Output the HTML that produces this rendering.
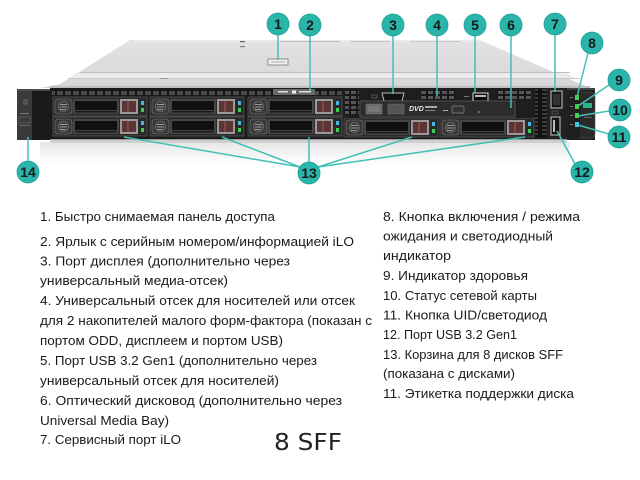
<!DOCTYPE html>
<html><head><meta charset="utf-8"><style>
html,body{margin:0;padding:0;background:#fff;}
svg{display:block;}
.t{font-family:"Liberation Sans","DejaVu Sans",sans-serif;font-size:12.5px;fill:#1a1a1a;}
.n{font-family:"Liberation Sans Narrow","Liberation Sans",sans-serif;font-weight:bold;font-size:14px;fill:#1a1a1a;text-anchor:middle;}
</style></head><body>
<svg width="640" height="480" viewBox="0 0 640 480" xmlns="http://www.w3.org/2000/svg">
<defs>
  <linearGradient id="lid" x1="0" y1="0" x2="0" y2="1">
    <stop offset="0" stop-color="#e3e3e3"/><stop offset="1" stop-color="#d6d6d6"/>
  </linearGradient>
  <linearGradient id="refl" x1="0" y1="0" x2="0" y2="1">
    <stop offset="0" stop-color="#e6e6e6"/><stop offset="1" stop-color="#ffffff"/>
  </linearGradient>
  <pattern id="vent" x="0" y="0" width="8" height="6" patternUnits="userSpaceOnUse">
    <rect width="8" height="6" fill="#161616"/><rect x="1" y="1" width="6" height="4" fill="#4a4a4a"/>
  </pattern>
  <pattern id="vgrid" x="0" y="0" width="7" height="5" patternUnits="userSpaceOnUse">
    <rect width="7" height="5" fill="#181818"/><rect x="1" y="1" width="5" height="3" fill="#555"/>
  </pattern>
  <pattern id="vcol" x="0" y="0" width="12" height="4" patternUnits="userSpaceOnUse">
    <rect width="12" height="4" fill="#121212"/><rect x="2" y="1" width="8" height="2" fill="#3c3c3c"/>
  </pattern>
  <g id="drv">
    <rect x="0" y="0" width="94" height="19" fill="#2a2a2a" stroke="#565656" stroke-width="0.8"/>
    <rect x="2" y="2" width="17" height="15" rx="3" fill="#3a3a3a" stroke="#7a7a7a" stroke-width="0.6"/>
    <circle cx="10.5" cy="9.5" r="5" fill="none" stroke="#8a8a8a" stroke-width="0.6"/>
    <rect x="7" y="7" width="7" height="1" fill="#999"/><rect x="7" y="9.5" width="7" height="1" fill="#999"/><rect x="7" y="12" width="6" height="1" fill="#999"/>
    <rect x="20" y="2" width="46" height="15" fill="#454545"/>
    <rect x="22" y="4" width="42" height="9" fill="#101010"/>
    <rect x="22" y="14" width="42" height="1.5" fill="#1a1a1a"/>
    <rect x="67" y="2" width="18" height="15" fill="#9a9a9a"/>
    <rect x="69" y="4" width="14" height="11" fill="#5c3434"/>
    <rect x="74" y="4" width="2" height="11" fill="#7a4a4a"/>
    <rect x="88" y="4" width="3" height="4" fill="#45b8e8"/>
    <rect x="88" y="11" width="3" height="4" fill="#3fcf4f"/>
  </g>
</defs>

<!-- reflection -->
<rect x="40" y="142" width="530" height="22" fill="url(#refl)"/>

<!-- lid -->
<polygon points="130,40 480,40 590,88 40,88 60,84" fill="url(#lid)"/>
<polygon points="137,40 480,40 485,42 134,42" fill="#eaeaea"/>
<rect x="80" y="72" width="490" height="1" fill="#bdbdbd"/>
<polygon points="78,73 566,73 575,78 70,78" fill="#ececec"/>
<rect x="68" y="78" width="512" height="1" fill="#c8c8c8"/>
<rect x="50" y="86" width="540" height="2" fill="#bfbfbf"/>
<rect x="240" y="41" width="5" height="1.2" fill="#666"/>
<rect x="240" y="46" width="5" height="1.2" fill="#888"/>
<rect x="280" y="41" width="60" height="1" fill="#bbb"/>
<rect x="350" y="41" width="40" height="1" fill="#c4c4c4"/>
<rect x="410" y="41" width="50" height="1" fill="#c8c8c8"/>
<rect x="160" y="78" width="8" height="1" fill="#999"/>
<!-- pull label on lid -->
<rect x="268" y="59" width="20" height="6" fill="#f2f2f2" stroke="#777" stroke-width="0.8"/>
<rect x="271" y="61.5" width="14" height="1" fill="#aaa"/>

<!-- left ear -->
<rect x="17" y="89" width="34" height="51" fill="#1a1a1a"/>
<path d="M17 93 Q17 89 22 89 L32 89 L32 140 L17 140 Z" fill="#3a3a3a"/>
<rect x="17" y="89" width="34" height="2" fill="#4d4d4d"/>
<rect x="24" y="100" width="3" height="4" fill="none" stroke="#888" stroke-width="0.6"/>
<rect x="20" y="113" width="9" height="1" fill="#777"/>
<rect x="19" y="117" width="11" height="6" fill="none" stroke="#666" stroke-width="0.6"/>
<rect x="19" y="125" width="11" height="1" fill="#666"/>

<!-- main front body -->
<rect x="50" y="88" width="517" height="51" fill="#1b1b1b"/>
<rect x="52" y="89" width="290" height="6" fill="url(#vent)"/>
<!-- pull tab (2) -->
<rect x="273" y="89" width="42" height="6" fill="#6a6a6a"/>
<rect x="278" y="91" width="10" height="1.5" fill="#ddd"/>
<rect x="292" y="90.5" width="4" height="3" fill="#eee"/>
<rect x="299" y="91" width="12" height="1.5" fill="#ddd"/>

<!-- drive bays -->
<use href="#drv" x="53" y="97"/>
<use href="#drv" x="150" y="97"/>
<use href="#drv" x="248" y="97"/>
<use href="#drv" x="53" y="117"/>
<use href="#drv" x="150" y="117"/>
<use href="#drv" x="248" y="117"/>
<use href="#drv" x="344" y="118"/>
<use href="#drv" x="440" y="118"/>

<!-- media bay top -->
<rect x="343" y="88" width="191" height="30" fill="#1e1e1e"/>
<rect x="345" y="90" width="14" height="25" fill="url(#vgrid)"/>
<rect x="420" y="90" width="35" height="10" fill="url(#vgrid)"/>
<rect x="497" y="90" width="35" height="10" fill="url(#vgrid)"/>
<!-- display port -->
<path d="M382 93 L404 93 L402 101 L384 101 Z" fill="#111" stroke="#bbb" stroke-width="1"/>
<rect x="372" y="95" width="5" height="3" fill="none" stroke="#888" stroke-width="0.5"/>
<!-- USB 5 -->
<rect x="473" y="93" width="15" height="8" fill="#0c0c0c" stroke="#e0e0e0" stroke-width="1"/>
<rect x="475" y="95" width="11" height="2" fill="#bbb"/>
<rect x="464" y="96" width="5" height="1" fill="#777"/>
<!-- ODD -->
<rect x="360" y="101" width="155" height="16" fill="#2c2c2c" stroke="#5c5c5c" stroke-width="0.8"/>
<rect x="366" y="104" width="16" height="10" fill="#666" stroke="#888" stroke-width="0.5"/>
<rect x="368" y="106" width="12" height="6" fill="#777"/>
<rect x="388" y="104" width="16" height="10" fill="#555" stroke="#777" stroke-width="0.5"/>
<text x="409" y="111" font-family="Liberation Sans, sans-serif" font-style="italic" font-weight="bold" font-size="7" fill="#e8e8e8">DVD</text>
<rect x="425" y="106" width="12" height="2" fill="#aaa"/>
<rect x="425" y="110" width="10" height="1" fill="#888"/>
<rect x="443" y="110" width="5" height="1" fill="#aaa"/>
<rect x="452" y="106" width="12" height="7" rx="1" fill="#333" stroke="#888" stroke-width="0.7"/>
<circle cx="479" cy="112" r="1" fill="#888"/>

<!-- right section -->
<rect x="535" y="89" width="12" height="48" fill="url(#vcol)"/>
<rect x="547" y="88" width="20" height="51" fill="#222"/>
<rect x="551" y="91" width="11" height="17" fill="#151515" stroke="#c8c8c8" stroke-width="1"/>
<rect x="553" y="94" width="7" height="11" fill="#333"/>
<rect x="551" y="117" width="9" height="18" fill="#151515" stroke="#c8c8c8" stroke-width="1"/>
<rect x="553" y="120" width="2" height="12" fill="#bbb"/>
<rect x="552" y="111" width="6" height="3" fill="none" stroke="#777" stroke-width="0.5"/>
<!-- right ear -->
<rect x="567" y="88" width="28" height="52" fill="#1f1f1f"/>
<path d="M580 92 L590 92 Q595 92 595 97 L595 134 Q595 138 590 138 L580 138" fill="#2a2a2a" stroke="#555" stroke-width="0.6"/>
<rect x="567" y="88" width="28" height="2" fill="#444"/>
<rect x="575" y="95" width="4" height="5" fill="#3fd24a"/>
<rect x="575" y="104" width="4" height="5" fill="#3fd24a"/>
<rect x="575" y="113" width="4" height="5" fill="#3fd24a"/>
<rect x="575" y="122" width="4" height="5" fill="#42c6f0"/>
<rect x="570" y="97" width="3" height="1" fill="#777"/>
<rect x="570" y="106" width="3" height="1" fill="#777"/>
<rect x="570" y="115" width="3" height="1" fill="#777"/>
<rect x="570" y="124" width="3" height="1" fill="#777"/>
<rect x="583" y="103" width="9" height="5" fill="#2db58a"/>
<rect x="584" y="117" width="8" height="1" fill="#666"/>
<!-- bottom lip -->
<rect x="50" y="139" width="517" height="4" fill="#cfcfcf"/>
<rect x="50" y="139" width="517" height="1" fill="#9a9a9a"/>

<!-- leader lines -->
<g stroke="#43c0b6" stroke-width="1.5" fill="none">
  <path d="M278 34 V60"/>
  <path d="M310 35 V91"/>
  <path d="M393 35 V94"/>
  <path d="M437 35 V96"/>
  <path d="M475 35 V93"/>
  <path d="M511 35 V108"/>
  <path d="M555 35 V92"/>
  <path d="M588 53 L577 97"/>
  <path d="M609 85 L578 106"/>
  <path d="M609 111 L578 116"/>
  <path d="M609 134 L578 125"/>
  <path d="M575 164 L557 131"/>
  <path d="M300 167 L124 137"/>
  <path d="M300 167 L222 137"/>
  <path d="M309 162 V137"/>
  <path d="M318 167 L412 137"/>
  <path d="M318 167 L525 137"/>
  <path d="M28 161 V137"/>
</g>

<!-- callout circles -->
<g fill="#29b5aa" stroke="#1f9d93" stroke-width="0.8">
  <circle cx="278" cy="24" r="11"/>
  <circle cx="310" cy="25" r="11"/>
  <circle cx="393" cy="25" r="11"/>
  <circle cx="437" cy="25" r="11"/>
  <circle cx="475" cy="25" r="11"/>
  <circle cx="511" cy="25" r="11"/>
  <circle cx="555" cy="24" r="11"/>
  <circle cx="592" cy="43" r="11"/>
  <circle cx="619" cy="80" r="11"/>
  <circle cx="620" cy="110" r="11"/>
  <circle cx="619" cy="137" r="11"/>
  <circle cx="582" cy="172" r="11"/>
  <circle cx="309" cy="173" r="11"/>
  <circle cx="28" cy="172" r="11"/>
</g>
<g class="n">
  <text x="278" y="29" class="n">1</text>
  <text x="310" y="30" class="n">2</text>
  <text x="393" y="30" class="n">3</text>
  <text x="437" y="30" class="n">4</text>
  <text x="475" y="30" class="n">5</text>
  <text x="511" y="30" class="n">6</text>
  <text x="555" y="29" class="n">7</text>
  <text x="592" y="48" class="n">8</text>
  <text x="619" y="85" class="n">9</text>
  <text x="620" y="115" class="n">10</text>
  <text x="619" y="142" class="n">11</text>
  <text x="582" y="177" class="n">12</text>
  <text x="309" y="178" class="n">13</text>
  <text x="28" y="177" class="n">14</text>
</g>

<!-- left column text -->
<g class="t">
  <text x="40" y="221" textLength="235" lengthAdjust="spacingAndGlyphs">1. Быстро снимаемая панель доступа</text>
  <text x="40" y="246" textLength="314" lengthAdjust="spacingAndGlyphs">2. Ярлык с серийным номером/информацией iLO</text>
  <text x="40" y="265.5" textLength="250" lengthAdjust="spacingAndGlyphs">3. Порт дисплея (дополнительно через</text>
  <text x="40" y="285" textLength="188" lengthAdjust="spacingAndGlyphs">универсальный медиа-отсек)</text>
  <text x="40" y="305" textLength="315" lengthAdjust="spacingAndGlyphs">4. Универсальный отсек для носителей или отсек</text>
  <text x="40" y="325" textLength="332" lengthAdjust="spacingAndGlyphs">для 2 накопителей малого форм-фактора (показан с</text>
  <text x="40" y="345" textLength="243" lengthAdjust="spacingAndGlyphs">портом ODD, дисплеем и портом USB)</text>
  <text x="40" y="365" textLength="277" lengthAdjust="spacingAndGlyphs">5. Порт USB 3.2 Gen1 (дополнительно через</text>
  <text x="40" y="385" textLength="239" lengthAdjust="spacingAndGlyphs">универсальный отсек для носителей)</text>
  <text x="40" y="405" textLength="302" lengthAdjust="spacingAndGlyphs">6. Оптический дисковод (дополнительно через</text>
  <text x="40" y="425" textLength="129" lengthAdjust="spacingAndGlyphs">Universal Media Bay)</text>
  <text x="40" y="444" textLength="141" lengthAdjust="spacingAndGlyphs">7. Сервисный порт iLO</text>
</g>

<!-- right column text -->
<g class="t">
  <text x="383" y="221" textLength="197" lengthAdjust="spacingAndGlyphs">8. Кнопка включения / режима</text>
  <text x="383" y="240.5" textLength="170" lengthAdjust="spacingAndGlyphs">ожидания и светодиодный</text>
  <text x="383" y="260" textLength="68" lengthAdjust="spacingAndGlyphs">индикатор</text>
  <text x="383" y="280" textLength="145" lengthAdjust="spacingAndGlyphs">9. Индикатор здоровья</text>
  <text x="383" y="300" textLength="154" lengthAdjust="spacingAndGlyphs">10. Статус сетевой карты</text>
  <text x="383" y="319.5" textLength="164" lengthAdjust="spacingAndGlyphs">11. Кнопка UID/светодиод</text>
  <text x="383" y="339" textLength="134" lengthAdjust="spacingAndGlyphs">12. Порт USB 3.2 Gen1</text>
  <text x="383" y="359" textLength="180" lengthAdjust="spacingAndGlyphs">13. Корзина для 8 дисков SFF</text>
  <text x="383" y="378" textLength="132" lengthAdjust="spacingAndGlyphs">(показана с дисками)</text>
  <text x="383" y="398" textLength="191" lengthAdjust="spacingAndGlyphs">11. Этикетка поддержки диска</text>
</g>

<text x="274" y="450" font-family="DejaVu Sans, Liberation Sans, sans-serif" font-size="23" fill="#222" textLength="68" lengthAdjust="spacingAndGlyphs">8 SFF</text>
</svg>
</body></html>
